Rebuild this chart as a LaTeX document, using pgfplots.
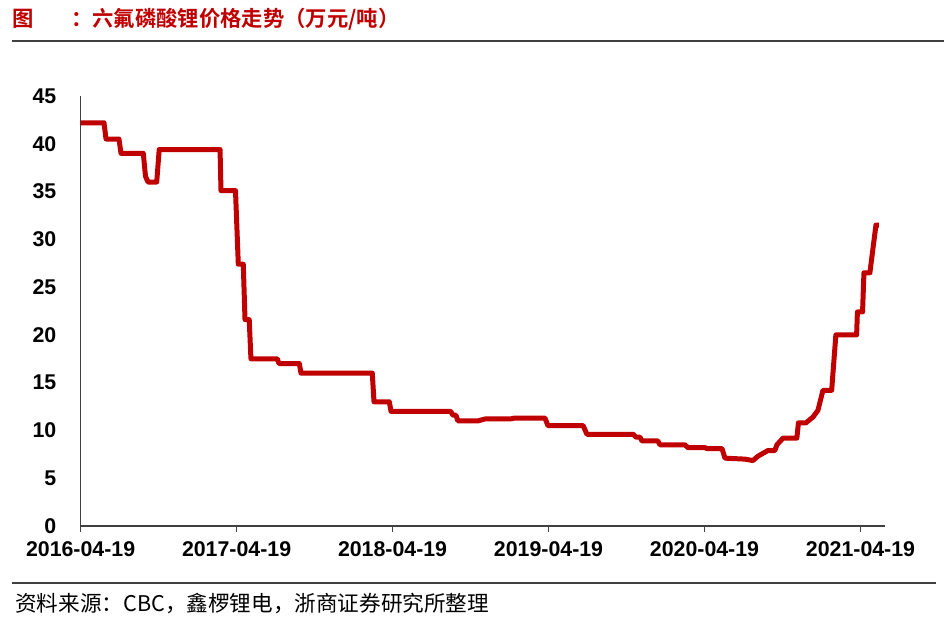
\documentclass[border=0pt]{standalone}
\usepackage{fontspec}
\setmainfont{Liberation Sans}
\newfontfamily\cjk{Noto Sans CJK SC}[BoldFont={Noto Sans CJK SC Bold}]
\usepackage{pgfplots}
\pgfplotsset{compat=1.18}
\definecolor{lired}{HTML}{C00000}
\definecolor{axgray}{HTML}{404040}

\begin{document}
\begin{tikzpicture}[x=0.75pt,y=-0.75pt]
% page frame, 944 x 621 px
\path[use as bounding box] (0,0) rectangle (944,621);

% title and rules
\node[anchor=west,inner sep=0pt,text=lired] at (12,19)
  {\cjk\bfseries\fontsize{16}{16}\selectfont 图};
\node[anchor=west,inner sep=0pt,text=lired] at (71,19)
  {\cjk\bfseries\fontsize{16}{16}\selectfont ：六氟磷酸锂价格走势（万元/吨）};
\draw[axgray,line width=1.5pt] (12,41) -- (944,41);
\draw[axgray,line width=1.5pt] (12,583) -- (936,583);
\node[anchor=west,inner sep=0pt] at (15,603)
  {\cjk\fontsize{16.2}{17}\selectfont 资料来源：CBC，鑫椤锂电，浙商证券研究所整理};

\begin{axis}[
    at={(60.45pt,-394.5pt)}, anchor=south west,
    width=603.3pt, height=322.5pt, scale only axis,
    xmin=0, xmax=5.157, ymin=0, ymax=45,
    axis x line*=bottom, axis y line*=left,
    axis line style={axgray,line width=1.1pt,-},
    xtick={0,1,2,3,4,5},
    xticklabels={2016-04-19,2017-04-19,2018-04-19,2019-04-19,2020-04-19,2021-04-19},
    ytick={0,5,...,45},
    tick align=outside,
    major tick length=4.5pt,
    xtick style={axgray,line width=1.1pt},
    ytick style={draw=none},
    /pgf/number format/assume math mode=true,
    ticklabel style={font=\bfseries\fontsize{16}{16}\selectfont, text=black},
    yticklabel style={anchor=east, inner sep=0pt, xshift=-13.5pt},
    xticklabel style={anchor=north, inner sep=0pt, yshift=-7pt},
    clip=false,
]
\addplot[lired, line width=3.75pt, line join=round] coordinates {
    (0,42.2) (0.150,42.2) (0.163,40.5) (0.246,40.5) (0.259,39.0)
    (0.402,39.0) (0.416,36.6) (0.432,36.0) (0.488,36.0) (0.504,39.4)
    (0.894,39.4) (0.900,35.1) (0.993,35.1) (1.011,27.4) (1.043,27.4)
    (1.054,21.6) (1.081,21.6) (1.092,17.5) (1.261,17.5) (1.272,17.0)
    (1.402,17.0) (1.413,16.0) (1.870,16.0) (1.881,13.0) (1.979,13.0)
    (1.990,12.0) (2.372,12.0) (2.387,11.6) (2.406,11.6) (2.419,11.0)
    (2.547,11.0) (2.592,11.2) (2.753,11.2) (2.785,11.3) (2.977,11.3)
    (2.996,10.5) (3.222,10.5) (3.246,9.6) (3.543,9.6) (3.560,9.3)
    (3.586,9.3) (3.599,8.9) (3.701,8.9) (3.714,8.5) (3.874,8.5)
    (3.894,8.2) (4.003,8.2) (4.016,8.1) (4.112,8.1) (4.131,7.1)
    (4.259,7.0) (4.310,6.85) (4.342,7.3) (4.374,7.6) (4.406,7.9)
    (4.451,7.9) (4.464,8.5) (4.503,9.2) (4.592,9.2) (4.602,10.8)
    (4.650,10.8) (4.695,11.4) (4.727,12.1) (4.759,14.2) (4.815,14.2)
    (4.842,20.0) (4.975,20.0) (4.980,22.4) (5.013,22.4) (5.022,26.5)
    (5.060,26.5) (5.099,31.5) (5.118,31.5)
};
\end{axis}
\end{tikzpicture}
\end{document}
